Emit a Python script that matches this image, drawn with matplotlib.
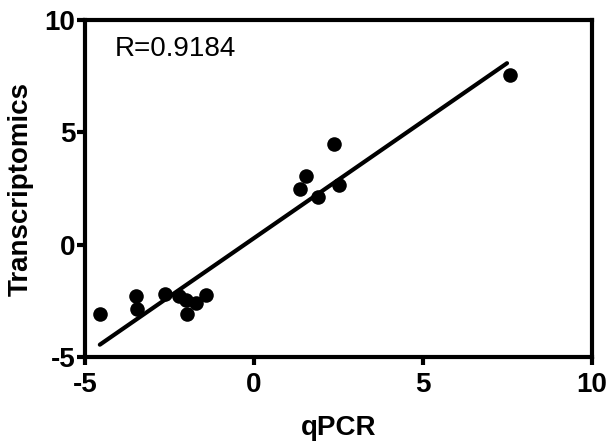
import matplotlib
matplotlib.use("Agg")
import matplotlib.pyplot as plt
import numpy as np

plt.rcParams['font.family'] = ['Liberation Sans', 'DejaVu Sans']
plt.rcParams['axes.unicode_minus'] = False

qpcr = [-4.56, -3.50, -3.46, -2.63, -2.22, -2.01, -1.98, -1.72, -1.42,
        1.36, 1.54, 1.89, 2.37, 2.51, 7.57]
transcriptomics = [-3.10, -2.30, -2.85, -2.20, -2.30, -2.45, -3.07, -2.58, -2.25,
                   2.49, 3.07, 2.14, 4.49, 2.67, 7.57]
fit_slope = 1.04
fit_intercept = 0.29
r_text = "R=0.9184"
xticks = [-5, 0, 5, 10]
yticks = [-5, 0, 5, 10]

fig = plt.figure(figsize=(6.07, 4.46), dpi=100)
ax = fig.add_axes([0.140, 0.1996, 0.835, 0.7554])

ax.scatter(qpcr, transcriptomics, s=110, color='black', zorder=3, linewidths=0)
xs = np.array([min(qpcr), 7.49])
ax.plot(xs, fit_slope * xs + fit_intercept, color='black', lw=3, solid_capstyle='round')

ax.set_xlim(-5, 10)
ax.set_ylim(-5, 10)
ax.set_xticks(xticks)
ax.set_yticks(yticks)
for s in ax.spines.values():
    s.set_linewidth(3)
ax.tick_params(direction='out', length=6, width=3, labelsize=20, pad=1)
ax.tick_params(axis='x', pad=5)
for lab in ax.get_xticklabels() + ax.get_yticklabels():
    lab.set_fontweight('bold')

ax.set_xlabel('qPCR', fontsize=20, fontweight='bold', labelpad=12)
ax.set_ylabel('Transcriptomics', fontsize=20, fontweight='bold', labelpad=8)
ax.text(-4.11, 8.72, r_text, fontsize=20, ha='left', va='center')

fig.savefig('out.png', dpi=100)
